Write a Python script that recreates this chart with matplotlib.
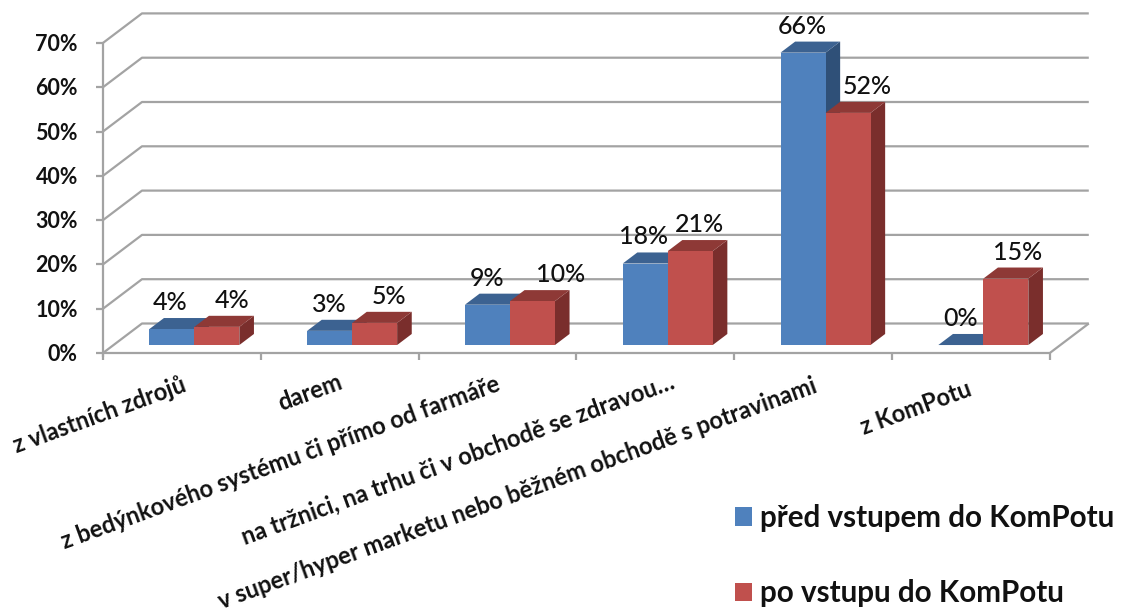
#!/usr/bin/env python3
import matplotlib

matplotlib.use("Agg")
import matplotlib.pyplot as plt
from matplotlib.patches import Patch, Polygon

categories = [
    "z vlastních zdrojů",
    "darem",
    "z bedýnkového systému či přímo od farmáře",
    "na tržnici, na trhu či v obchodě se zdravou…",
    "v super/hyper marketu nebo běžném obchodě s potravinami",
    "z KomPotu",
]
series_names = ["před vstupem do KomPotu", "po vstupu do KomPotu"]
before = [3.6, 3.2, 9.1, 18.4, 66.0, 0.0]
after = [4.1, 5.0, 9.9, 21.2, 52.4, 15.0]
y_ticks = [0, 10, 20, 30, 40, 50, 60, 70]

W, H = 1127, 612
PX_CAT = 157.8
PX_PCT = 4.43
ORIGIN_X, ORIGIN_Y = 103, 353
# wall depth in data units
DX = 39 / PX_CAT
DY = 29.5 / PX_PCT
BAR_W = 45 / PX_CAT
BAR_D0 = 0.27
BAR_D1 = 0.645

GRID = "#a3a3a3"
FACES = {
    0: ("#4f81bd", "#3c6291", "#2f5078"),
    1: ("#c0504d", "#8e3936", "#7a2e2c"),
}
# label nudges in pixels, the labels sit by hand in the original
RED_NUDGE = [1, 0, 14, -5, 5, -3]
BLUE_NUDGE = [-16, -15, -15, -16, -15, -15]
CAT_NUDGE = [(3, -16), (2, -13), (2, -15), (18, -13), (3, -17), (0, -20)]


def project(x, y, d):
    return x + d * DX, y + d * DY


def draw_bar(ax, x, value, colors):
    front, top, side = colors
    x0, y0 = project(x, 0, BAR_D0)
    x1, y1 = project(x + BAR_W, value, BAR_D0)
    bx, by = DX * (BAR_D1 - BAR_D0), DY * (BAR_D1 - BAR_D0)
    ax.add_patch(Polygon([(x1, y0), (x1 + bx, y0 + by), (x1 + bx, y1 + by), (x1, y1)], fc=side, ec="none", zorder=3))
    ax.add_patch(Polygon([(x0, y1), (x1, y1), (x1 + bx, y1 + by), (x0 + bx, y1 + by)], fc=top, ec="none", zorder=3))
    if value > 0:
        ax.add_patch(Polygon([(x0, y0), (x1, y0), (x1, y1), (x0, y1)], fc=front, ec="none", zorder=3))


def main() -> None:
    plt.rcParams["font.family"] = ["Lato", "DejaVu Sans"]
    fig = plt.figure(figsize=(W / 100, H / 100), dpi=100)
    ax = fig.add_axes([0, 0, 1, 1])
    ax.set_xlim(-ORIGIN_X / PX_CAT, (W - ORIGIN_X) / PX_CAT)
    ax.set_ylim((ORIGIN_Y - H) / PX_PCT, ORIGIN_Y / PX_PCT)
    ax.axis("off")

    n = len(categories)
    line = dict(color=GRID, lw=1.6, solid_capstyle="butt", zorder=1)
    for tick in y_ticks:
        bx, by = project(0, tick, 1)
        ax.plot([0, bx, n + DX], [tick, by, by], **line)
        ax.plot([-7 / PX_CAT, 0], [tick, tick], **line)
        ax.text(-25 / PX_CAT, tick - 1.5 / PX_PCT, f"{tick}%", ha="right", va="center", fontsize=15.5, fontweight="bold", color="#111111")
    ax.plot([0, 0], [-4 / PX_PCT, 70], **line)
    ax.plot([0, n, n + DX], [0, 0, DY], **line)
    for i in range(n + 1):
        ax.plot([i, i], [0, -7 / PX_PCT], **line)

    for i, name in enumerate(categories):
        for s, values in enumerate([before, after]):
            x = i + 0.512 - BAR_W + s * BAR_W
            draw_bar(ax, x, values[i], FACES[s])
            nudge = BLUE_NUDGE[i] if s == 0 else RED_NUDGE[i]
            lx, ly = project(x + BAR_W / 2 + nudge / PX_CAT, values[i], BAR_D1)
            ax.text(lx, ly + 4 / PX_PCT, f"{round(values[i])}%", ha="center", va="bottom", fontsize=18, fontweight=500, color="#111111", zorder=5)
        ox, oy = CAT_NUDGE[i]
        ax.text(
            i + 0.5 + ox / PX_CAT,
            oy / PX_PCT - 15 / PX_PCT,
            name,
            rotation=20,
            rotation_mode="anchor",
            ha="right",
            va="center",
            fontsize=17,
            fontweight="bold",
            color="#111111",
        )

    handles = [Patch(fc=FACES[s][0], ec="none") for s in range(2)]
    ax.legend(
        handles,
        series_names,
        loc="lower left",
        bbox_to_anchor=(711 / W, 1 - 631 / H),
        bbox_transform=ax.transAxes,
        frameon=False,
        prop=dict(size=21.3, weight="bold"),
        handlelength=0.58,
        handleheight=0.58,
        handletextpad=0.28,
        labelspacing=1.6,
        borderpad=0.3,
        labelcolor="#111111",
    )

    fig.savefig("out.png", dpi=100)
    plt.close(fig)


if __name__ == "__main__":
    main()
